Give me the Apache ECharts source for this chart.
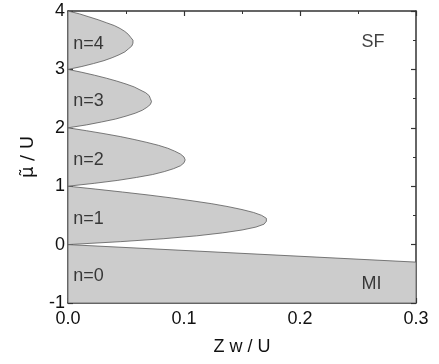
<!DOCTYPE html>
<html>
<head>
<meta charset="utf-8">
<script src="https://cdn.jsdelivr.net/npm/echarts@6/dist/echarts.min.js"></script>
<style>
  html, body { margin: 0; padding: 0; background: #fff; }
  #chart { width: 439px; height: 364px; }
</style>
</head>
<body>
<div id="chart"></div>
<script>
// Mott lobe boundaries: chemical potential mu/U and the hopping Zw/U at that mu
var lobe1Mu = [0, 0.05, 0.1, 0.15, 0.2, 0.25, 0.3, 0.35, 0.4, 0.45, 0.5, 0.55, 0.6, 0.65, 0.7, 0.75, 0.8, 0.85, 0.9, 0.95, 1.0];
var lobe1W  = [0, 0.045, 0.082, 0.111, 0.133, 0.150, 0.162, 0.169, 0.171, 0.171, 0.167, 0.160, 0.150, 0.138, 0.124, 0.107, 0.089, 0.069, 0.047, 0.024, 0];
var lobe2Mu = [1, 1.05, 1.1, 1.15, 1.2, 1.25, 1.3, 1.35, 1.4, 1.45, 1.5, 1.55, 1.6, 1.65, 1.7, 1.75, 1.8, 1.85, 1.9, 1.95, 2.0];
var lobe2W  = [0, 0.023, 0.043, 0.059, 0.073, 0.083, 0.091, 0.097, 0.100, 0.101, 0.100, 0.097, 0.092, 0.086, 0.078, 0.068, 0.057, 0.045, 0.031, 0.016, 0];
var lobe3Mu = [2, 2.05, 2.1, 2.15, 2.2, 2.25, 2.3, 2.35, 2.4, 2.45, 2.5, 2.55, 2.6, 2.65, 2.7, 2.75, 2.8, 2.85, 2.9, 2.95, 3.0];
var lobe3W  = [0, 0.016, 0.029, 0.041, 0.050, 0.058, 0.064, 0.068, 0.071, 0.072, 0.071, 0.070, 0.067, 0.062, 0.057, 0.050, 0.042, 0.033, 0.023, 0.012, 0];
var lobe4Mu = [3, 3.05, 3.1, 3.15, 3.2, 3.25, 3.3, 3.35, 3.4, 3.45, 3.5, 3.55, 3.6, 3.65, 3.7, 3.75, 3.8, 3.85, 3.9, 3.95, 4.0];
var lobe4W  = [0, 0.012, 0.022, 0.031, 0.038, 0.044, 0.049, 0.052, 0.055, 0.056, 0.056, 0.054, 0.052, 0.049, 0.045, 0.040, 0.033, 0.026, 0.018, 0.010, 0];
// n=0 region, bounded above by the sloping edge
var lobe0Mu = [-1, 0, -0.3, -1];
var lobe0W  = [0, 0, 0.3, 0.3];

var lobeNames = ['n=0', 'n=1', 'n=2', 'n=3', 'n=4'];
var labelMu   = [-0.54, 0.44, 1.44, 2.45, 3.43];
var phaseNames = ['SF', 'MI'];
var phaseW     = [0.253, 0.253];
var phaseMu    = [3.47, -0.67];

var xTicks = [0, 0.1, 0.2, 0.3];
var yTicks = [-1, 0, 1, 2, 3, 4];

var lobes = [
  [lobe0W, lobe0Mu],
  [lobe1W, lobe1Mu],
  [lobe2W, lobe2Mu],
  [lobe3W, lobe3Mu],
  [lobe4W, lobe4Mu]
];

var axisColor = '#333';
var txtColor = '#111';
var font = 'Liberation Sans, Arial, sans-serif';

function mirrorAxis(extra) {
  var a = {
    axisLine: { show: true, onZero: false, lineStyle: { color: axisColor, width: 1.5 } },
    axisTick: { show: true, inside: true, length: 5, lineStyle: { color: axisColor, width: 1.2 } },
    minorTick: { show: true, splitNumber: 2, length: 3, lineStyle: { color: axisColor, width: 1 } },
    splitLine: { show: false },
    axisLabel: { show: false }
  };
  for (var k in extra) a[k] = extra[k];
  return a;
}

var chart = echarts.init(document.getElementById('chart'), null, { renderer: 'canvas' });

var option = {
  backgroundColor: '#fff',
  animation: false,
  grid: { left: 68, right: 23, top: 11, bottom: 61 },
  xAxis: [
    mirrorAxis({
      type: 'value', position: 'bottom', min: xTicks[0], max: xTicks[xTicks.length - 1], interval: 0.1,
      axisLabel: { show: true, margin: 7, fontSize: 18, color: txtColor, fontFamily: font,
        formatter: function (v) { return v.toFixed(1); } },
      name: 'Z w / U', nameLocation: 'middle', nameGap: 35,
      nameTextStyle: { fontSize: 18, color: txtColor, fontFamily: font }
    }),
    mirrorAxis({ type: 'value', position: 'top', min: xTicks[0], max: xTicks[xTicks.length - 1], interval: 0.1 })
  ],
  yAxis: [
    mirrorAxis({
      type: 'value', position: 'left', min: yTicks[0], max: yTicks[yTicks.length - 1], interval: 1,
      axisLabel: { show: true, margin: 3, fontSize: 18, color: txtColor, fontFamily: font },
      name: 'μ\u0303 / U', nameLocation: 'middle', nameGap: 31, nameRotate: 90,
      nameTextStyle: { fontSize: 18, color: txtColor, fontFamily: 'DejaVu Sans, sans-serif' }
    }),
    mirrorAxis({ type: 'value', position: 'right', min: yTicks[0], max: yTicks[yTicks.length - 1], interval: 1 })
  ],
  series: [
    {
      type: 'custom',
      xAxisIndex: 0,
      yAxisIndex: 0,
      clip: true,
      data: lobes.map(function (l, i) { return [0, 0, i]; }),
      renderItem: function (params, api) {
        var lobe = lobes[api.value(2)];
        var pts = lobe[0].map(function (w, j) { return api.coord([w, lobe[1][j]]); });
        return {
          type: 'polygon',
          shape: { points: pts },
          style: { fill: '#cccccc', stroke: '#5a5a5a', lineWidth: 0.8 }
        };
      },
      z: 1
    },
    {
      type: 'scatter',
      symbolSize: 0,
      data: lobeNames.map(function (n, i) { return [0.0045, labelMu[i], n]; }),
      label: {
        show: true, position: 'right', distance: 0,
        formatter: function (p) { return p.data[2]; },
        fontSize: 18, color: txtColor, fontFamily: font
      },
      z: 5
    },
    {
      type: 'scatter',
      symbolSize: 0,
      data: phaseNames.map(function (n, i) { return [phaseW[i], phaseMu[i], n]; }),
      label: {
        show: true, position: 'right', distance: 0,
        formatter: function (p) { return p.data[2]; },
        fontSize: 18, color: txtColor, fontFamily: font
      },
      z: 5
    }
  ]
};

chart.setOption(option);
</script>
</body>
</html>
